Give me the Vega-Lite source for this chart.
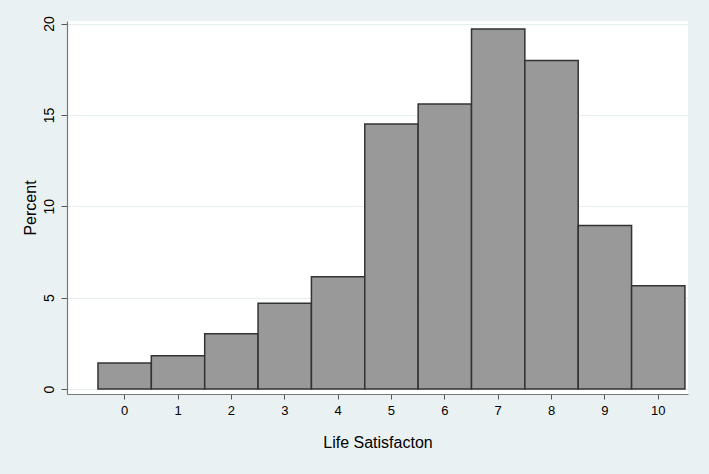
{
  "$schema": "https://vega.github.io/schema/vega-lite/v6.json",
  "width": 621,
  "height": 373,
  "autosize": {"type": "none"},
  "padding": {"left": 67, "top": 21, "right": 21, "bottom": 80},
  "background": "#eaf1f3",
  "config": {
    "view": {"fill": "white", "stroke": null},
    "font": "Liberation Sans"
  },
  "data": {
    "values": [
      {"score": "0", "percent": 1.42},
      {"score": "1", "percent": 1.82},
      {"score": "2", "percent": 3.02},
      {"score": "3", "percent": 4.7},
      {"score": "4", "percent": 6.15},
      {"score": "5", "percent": 14.5},
      {"score": "6", "percent": 15.6},
      {"score": "7", "percent": 19.7},
      {"score": "8", "percent": 17.98},
      {"score": "9", "percent": 8.95},
      {"score": "10", "percent": 5.65}
    ]
  },
  "mark": {"type": "bar", "fill": "#999999", "stroke": "#333333", "strokeWidth": 1.5},
  "encoding": {
    "x": {
      "field": "score",
      "type": "ordinal",
      "sort": null,
      "scale": {"type": "band", "paddingInner": 0, "paddingOuter": 0.319, "align": 0.91},
      "axis": {
        "title": "Life Satisfacton",
        "titleFontSize": 16,
        "titleFontWeight": "normal",
        "titleColor": "black",
        "titlePadding": 17,
        "labelAngle": 0,
        "labelFontSize": 13,
        "labelColor": "black",
        "labelPadding": 5,
        "domainColor": "#777777",
        "domainWidth": 1.2,
        "tickColor": "#555555",
        "tickSize": 5,
        "grid": false
      }
    },
    "y": {
      "field": "percent",
      "type": "quantitative",
      "scale": {"domain": [-0.27, 20.14], "nice": false, "zero": false},
      "axis": {
        "title": "Percent",
        "titleFontSize": 16,
        "titleFontWeight": "normal",
        "titleColor": "black",
        "titlePadding": 4,
        "values": [0, 5, 10, 15, 20],
        "labelAngle": 270,
        "labelAlign": "center",
        "labelBaseline": "bottom",
        "labelFontSize": 14,
        "labelColor": "black",
        "labelPadding": 5,
        "domainColor": "#777777",
        "domainWidth": 1.2,
        "tickColor": "#555555",
        "tickSize": 6,
        "grid": true,
        "gridColor": "#e4edf0",
        "gridWidth": 1.2
      }
    },
    "y2": {"datum": 0}
  }
}
